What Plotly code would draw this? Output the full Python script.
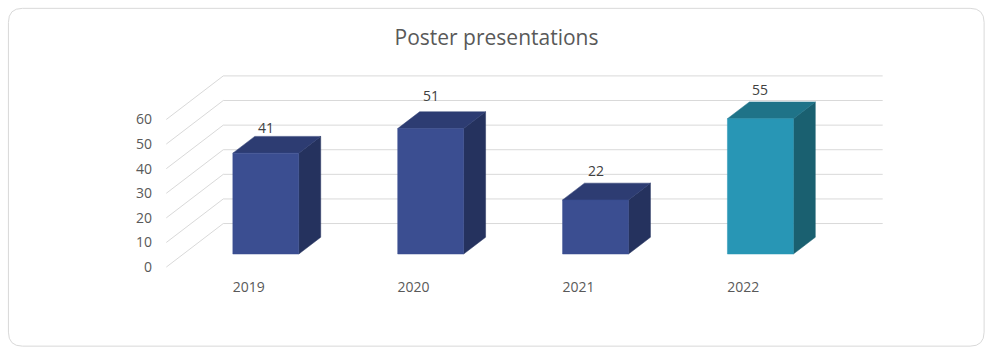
import plotly.graph_objects as go

# ---- data ----
years = ["2019", "2020", "2021", "2022"]
values = [41, 51, 22, 55]
y_ticks = [0, 10, 20, 30, 40, 50, 60]

# ---- style constants ----
W, H = 993, 357
KX = 165.0          # px per category unit
KY = 2.458          # px per value unit
X0_PX = 166.0       # pixel x of wall front-left (x = -0.5)
Y0_PX = 267.0       # pixel y of value 0 on front plane
DX = 57.0 / KX      # full depth offset in x units
DY = 43.5 / KY      # full depth offset in value units
BAR_W = 0.4
F_DEPTH = 0.30      # bar front depth fraction
B_DEPTH = 0.685     # bar back depth fraction
YMAX = max(y_ticks)
LABEL_SHIFT = [9, 16, 13, 12]   # px offset of data labels (as in reference)

colors_front = ["#3B4E91", "#3B4E91", "#3B4E91", "#2896B5"]
colors_top = ["#2D3C72", "#2D3C72", "#2D3C72", "#1F7388"]
colors_side = ["#25325E", "#25325E", "#25325E", "#1A6070"]
GRID = "#D9D9D9"
FONT = "Open Sans"

# axis ranges and margins so that data units map to the reference pixels
xmin, xmax = -0.52, len(years) - 0.5 + DX + 0.02
ymin, ymax = -2.0, YMAX + DY + 2.0
ml = X0_PX + (xmin + 0.5) * KX
plot_w = (xmax - xmin) * KX
mr = W - ml - plot_w
mb = H - (Y0_PX - ymin * KY)
mt = Y0_PX - ymax * KY
plot_h = H - mt - mb

fig = go.Figure()

# gridlines: left wall diagonals + back wall horizontals
for v in y_ticks:
    fig.add_trace(go.Scatter(
        x=[-0.5, -0.5 + DX, len(years) - 0.5 + DX],
        y=[v, v + DY, v + DY],
        mode="lines", line=dict(color=GRID, width=1),
        hoverinfo="skip", showlegend=False))

def poly(xs, ys, color):
    fig.add_trace(go.Scatter(
        x=xs + [xs[0]], y=ys + [ys[0]], mode="lines", fill="toself",
        fillcolor=color, line=dict(color=color, width=0.5),
        hoverinfo="skip", showlegend=False))

for i, v in enumerate(values):
    xl = i - BAR_W / 2
    xr = i + BAR_W / 2
    fx, fy = F_DEPTH * DX, F_DEPTH * DY
    bx, by = B_DEPTH * DX, B_DEPTH * DY
    # side face
    poly([xr + fx, xr + bx, xr + bx, xr + fx],
         [fy, by, v + by, v + fy], colors_side[i])
    # top face
    poly([xl + fx, xr + fx, xr + bx, xl + bx],
         [v + fy, v + fy, v + by, v + by], colors_top[i])
    # front face
    poly([xl + fx, xr + fx, xr + fx, xl + fx],
         [fy, fy, v + fy, v + fy], colors_front[i])
    fig.add_annotation(x=i + fx, y=v + by, text=str(v), showarrow=False,
                       yanchor="middle", yshift=LABEL_SHIFT[i],
                       font=dict(family=FONT, size=14, color="#404040"))

# rounded frame
def xp(px):
    return (px - ml) / plot_w

def yp(py):
    return (H - mb - py) / plot_h

fx0, fx1, fy0, fy1, r = 8, 984.5, 8.5, 346, 14
path = (f"M {xp(fx0 + r)},{yp(fy0)} L {xp(fx1 - r)},{yp(fy0)} "
        f"Q {xp(fx1)},{yp(fy0)} {xp(fx1)},{yp(fy0 + r)} "
        f"L {xp(fx1)},{yp(fy1 - r)} Q {xp(fx1)},{yp(fy1)} {xp(fx1 - r)},{yp(fy1)} "
        f"L {xp(fx0 + r)},{yp(fy1)} Q {xp(fx0)},{yp(fy1)} {xp(fx0)},{yp(fy1 - r)} "
        f"L {xp(fx0)},{yp(fy0 + r)} Q {xp(fx0)},{yp(fy0)} {xp(fx0 + r)},{yp(fy0)} Z")
fig.add_shape(type="path", path=path, xref="paper", yref="paper",
              line=dict(color="#D9D9D9", width=1), layer="below")

fig.update_layout(
    width=W, height=H,
    margin=dict(l=ml, r=mr, t=mt, b=mb, autoexpand=False),
    paper_bgcolor="white", plot_bgcolor="white",
    title=dict(text="Poster presentations", x=0.5, xref="container", xanchor="center",
               y=1 - 38 / H, yref="container", yanchor="middle",
               font=dict(family=FONT, size=21, color="#595959")),
    xaxis=dict(range=[xmin, xmax], tickvals=list(range(len(years))), ticktext=years,
               showgrid=False, zeroline=False, showline=False, ticks="",
               ticklabelstandoff=5,
               tickfont=dict(family=FONT, size=14, color="#595959"), fixedrange=True),
    yaxis=dict(range=[ymin, ymax], tickvals=y_ticks, showgrid=False, zeroline=False,
               showline=False, ticks="", ticklabelstandoff=10,
               tickfont=dict(family=FONT, size=14, color="#595959"), fixedrange=True),
    showlegend=False,
)

fig.write_html("out.html")
